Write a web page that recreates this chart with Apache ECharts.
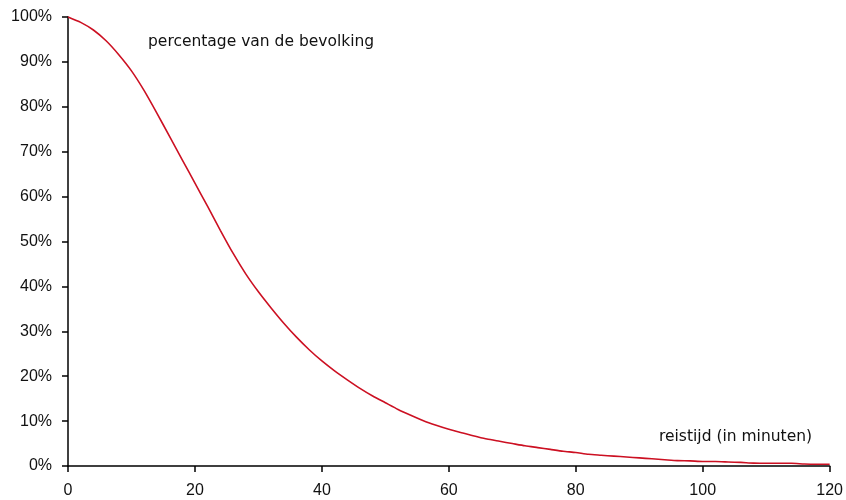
<!DOCTYPE html>
<html>
<head>
<meta charset="utf-8">
<script src="https://cdn.jsdelivr.net/npm/echarts@6/dist/echarts.min.js"></script>
<style>html,body{margin:0;padding:0;background:#fff}#c{width:846px;height:500px}</style>
</head>
<body>
<div id="c"></div>
<script>
const minutes = [0,2,4,6,8,10,12,14,16,18,20,22,24,26,28,30,32,34,36,38,40,42,44,46,48,50,52,54,56,58,60,62,64,66,68,70,72,74,76,78,80,82,84,86,88,90,92,94,96,98,100,102,104,106,108,110,112,114,116,118,120];
const percentage = [100,98.8,97.1,94.7,91.6,88.0,83.6,78.6,73.4,68.2,63.0,57.8,52.5,47.4,42.8,38.8,35.2,31.8,28.7,25.9,23.4,21.2,19.2,17.3,15.6,14.1,12.6,11.3,10.1,9.1,8.2,7.4,6.7,6.0,5.5,5.0,4.5,4.1,3.7,3.3,3.0,2.6,2.4,2.2,2.0,1.8,1.6,1.4,1.2,1.15,1.0,1.0,0.9,0.8,0.65,0.6,0.6,0.6,0.45,0.4,0.4];
const yLabelLabel = 'percentage van de bevolking';
const xLabelLabel = 'reistijd (in minuten)';

const tickFont = 'Liberation Sans';
const chart = echarts.init(document.getElementById('c'));
chart.setOption({
  animation: false,
  grid: {left: 68, right: 15, top: 17, bottom: 34, containLabel: false},
  xAxis: {
    type: 'value', min: 0, max: 120, interval: 20,
    axisLine: {show: true, onZero: false, lineStyle: {color: '#000', width: 1.5}},
    axisTick: {show: true, length: 6, lineStyle: {color: '#000', width: 1.5}},
    axisLabel: {color: '#111', fontFamily: tickFont, fontSize: 16, margin: 17},
    splitLine: {show: false}
  },
  yAxis: {
    type: 'value', min: 0, max: 100, interval: 10,
    axisLine: {show: true, lineStyle: {color: '#000', width: 1.5}},
    axisTick: {show: true, length: 6, lineStyle: {color: '#000', width: 1.5}},
    axisLabel: {color: '#111', fontFamily: tickFont, fontSize: 16, margin: 16, formatter: '{value}%'},
    splitLine: {show: false}
  },
  graphic: [
    {type: 'text', left: 148, top: 34, style: {text: yLabelLabel, fill: '#111', font: '15.5px "DejaVu Sans"'}},
    {type: 'text', left: 659, top: 429, style: {text: xLabelLabel, fill: '#111', font: '15.5px "DejaVu Sans"'}}
  ],
  series: [{
    type: 'line',
    data: minutes.map((m, i) => [m, percentage[i]]),
    showSymbol: false,
    smooth: 0.2,
    lineStyle: {color: '#cc1022', width: 1.6},
    clip: false
  }]
});
</script>
</body>
</html>
